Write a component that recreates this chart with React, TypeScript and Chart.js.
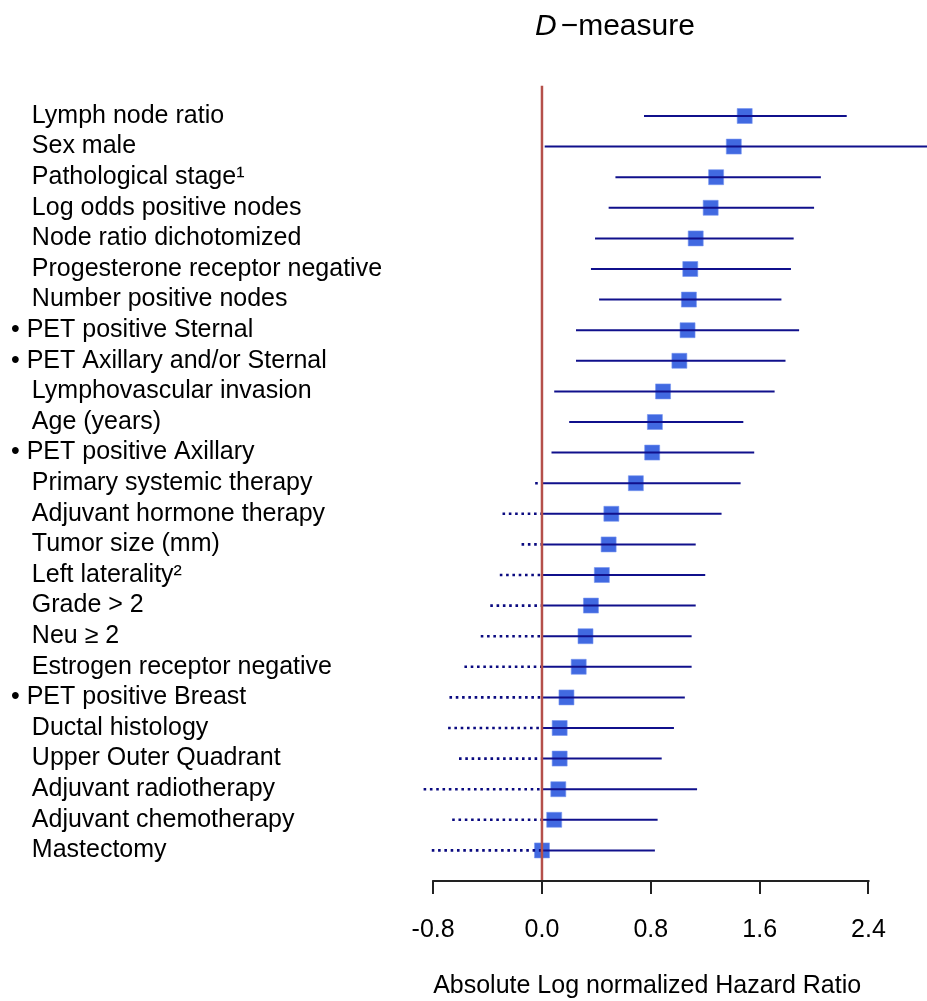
import React, { useEffect, useRef } from "react";
import { Chart, registerables } from "chart.js";

Chart.register(...registerables);

const FONT = "'Liberation Sans', Arial, Helvetica, sans-serif";

const labels = [
  "Lymph node ratio",
  "Sex male",
  "Pathological stage¹",
  "Log odds positive nodes",
  "Node ratio dichotomized",
  "Progesterone receptor negative",
  "Number positive nodes",
  "• PET positive Sternal",
  "• PET Axillary and/or Sternal",
  "Lymphovascular invasion",
  "Age (years)",
  "• PET positive Axillary",
  "Primary systemic therapy",
  "Adjuvant hormone therapy",
  "Tumor size (mm)",
  "Left laterality²",
  "Grade > 2",
  "Neu ≥ 2",
  "Estrogen receptor negative",
  "• PET positive Breast",
  "Ductal histology",
  "Upper Outer Quadrant",
  "Adjuvant radiotherapy",
  "Adjuvant chemotherapy",
  "Mastectomy",
];

const estimates = [
  1.49, 1.41, 1.28, 1.24, 1.13, 1.09, 1.08, 1.07, 1.01, 0.89, 0.83, 0.81, 0.69,
  0.51, 0.49, 0.44, 0.36, 0.32, 0.27, 0.18, 0.13, 0.13, 0.12, 0.09, 0.0,
];

const lower = [
  0.75, 0.02, 0.54, 0.49, 0.39, 0.36, 0.42, 0.25, 0.25, 0.09, 0.2, 0.07, -0.05,
  -0.29, -0.15, -0.31, -0.38, -0.45, -0.57, -0.68, -0.69, -0.61, -0.87, -0.66,
  -0.81,
];

const upper = [
  2.24, 3.0, 2.05, 2.0, 1.85, 1.83, 1.76, 1.89, 1.79, 1.71, 1.48, 1.56, 1.46,
  1.32, 1.13, 1.2, 1.13, 1.1, 1.1, 1.05, 0.97, 0.88, 1.14, 0.85, 0.83,
];

const xTicks = [-0.8, 0, 0.8, 1.6, 2.4];

const titleMain = "−measure";
const titleItalic = "D";
const xAxisTitle = "Absolute Log normalized Hazard Ratio";

export default function App() {
  const ref = useRef<HTMLCanvasElement | null>(null);

  useEffect(() => {
    if (!ref.current) return;

    const solid: any[] = [];
    const dotted: any[] = [];
    lower.forEach((lo, i) => {
      const y = i + 1;
      solid.push({ x: Math.max(lo, 0), y }, { x: upper[i], y }, { x: null, y: null });
      if (lo < 0) dotted.push({ x: lo, y }, { x: 0, y }, { x: null, y: null });
    });
    const points = estimates.map((e, i) => ({ x: e, y: i + 1 }));

    const decor = {
      id: "forestDecor",
      afterDraw(chart: any) {
        const ctx = chart.ctx;
        const xs = chart.scales.x;
        const area = chart.chartArea;
        ctx.save();
        // axis line between first and last tick
        ctx.strokeStyle = "#222";
        ctx.lineWidth = 2;
        ctx.beginPath();
        const y0 = Math.round(area.bottom);
        ctx.moveTo(xs.getPixelForValue(xTicks[0]) - 1, y0);
        ctx.lineTo(xs.getPixelForValue(xTicks[xTicks.length - 1]) + 1, y0);
        ctx.stroke();

        // title
        ctx.fillStyle = "#000";
        ctx.textBaseline = "alphabetic";
        ctx.textAlign = "left";
        const tx = xs.getPixelForValue(0) - 7;
        ctx.font = `italic 30px ${FONT}`;
        ctx.fillText(titleItalic, tx, 35);
        const w = ctx.measureText(titleItalic).width;
        ctx.font = `30px ${FONT}`;
        ctx.fillText(titleMain, tx + w + 4, 35);

        // x-axis title
        ctx.font = `25px ${FONT}`;
        ctx.fillText(xAxisTitle, xs.getPixelForValue(xTicks[0]), 993);
        ctx.restore();
      },
    };

    const chart = new Chart(ref.current, {
      type: "scatter",
      data: {
        datasets: [
          {
            data: [
              { x: 0, y: 0 },
              { x: 0, y: 26 },
            ],
            showLine: true,
            borderColor: "#B5504A",
            borderWidth: 2.5,
            pointRadius: 0,
            order: 0,
          },
          {
            data: solid,
            showLine: true,
            spanGaps: false,
            borderColor: "#10108C",
            borderWidth: 2,
            pointRadius: 0,
            order: 1,
          },
          {
            data: dotted,
            showLine: true,
            spanGaps: false,
            borderColor: "#0A0A80",
            borderWidth: 2.6,
            borderDash: [2.6, 3.7],
            pointRadius: 0,
            order: 1,
          },
          {
            data: points,
            pointStyle: "rect",
            pointRadius: 15 / Math.SQRT2,
            pointBackgroundColor: "#4169E1",
            pointBorderColor: "rgba(120,150,240,0.6)",
            pointBorderWidth: 1,
            order: 2,
          },
        ],
      },
      options: {
        responsive: false,
        animation: false,
        events: [],
        layout: { autoPadding: false, padding: { left: 11, top: 85.4, right: 0, bottom: 0 } },
        plugins: {
          legend: { display: false },
          tooltip: { enabled: false },
          title: { display: false },
        },
        scales: {
          x: {
            type: "linear",
            min: -0.97,
            max: 2.83,
            bounds: "data",
            afterBuildTicks: (s: any) => {
              s.ticks = xTicks.map((v) => ({ value: v }));
            },
            afterFit: (s: any) => {
              s.height = 120;
            },
            grid: {
              display: true,
              drawOnChartArea: false,
              drawTicks: true,
              tickLength: 13,
              color: "#222",
              lineWidth: 2,
            },
            border: { display: false },
            ticks: {
              autoSkip: false,
              maxRotation: 0,
              padding: 21,
              color: "#000",
              font: { size: 25, family: FONT },
              callback: (v: any) => Number(v).toFixed(1),
            },
          },
          y: {
            type: "linear",
            reverse: true,
            min: 0,
            max: 26,
            bounds: "data",
            afterBuildTicks: (s: any) => {
              s.ticks = labels.map((_, i) => ({ value: i + 1 }));
            },
            afterFit: (s: any) => {
              s.width = 399;
            },
            grid: { display: false },
            border: { display: false },
            ticks: {
              autoSkip: false,
              crossAlign: "far",
              padding: 0,
              color: "#000",
              font: { size: 25, family: FONT },
              callback: (v: any) => {
                const l = labels[Number(v) - 1] ?? "";
                return l.startsWith("•") ? l : "   " + l;
              },
            },
          },
        },
      },
      plugins: [decor],
    } as any);

    return () => chart.destroy();
  }, []);

  return (
    <div style={{ position: "fixed", left: 0, top: 0, width: 927, height: 1001, background: "#fff" }}>
      <canvas ref={ref} width={927} height={1001} style={{ display: "block" }} />
    </div>
  );
}
